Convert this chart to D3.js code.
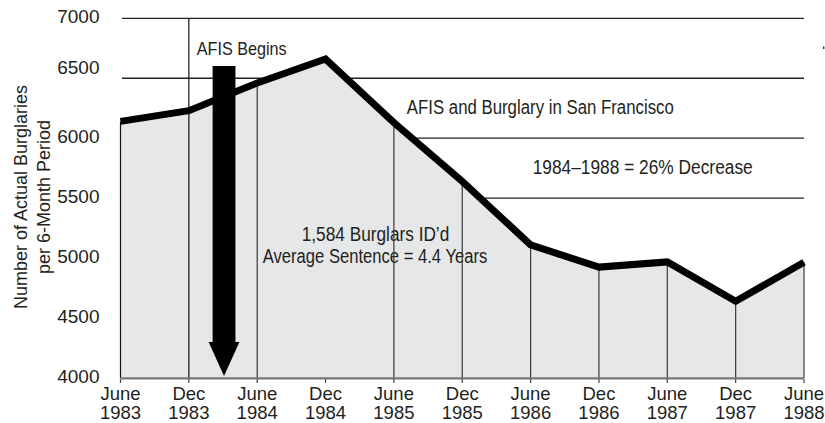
<!DOCTYPE html>
<html>
<head>
<meta charset="utf-8">
<script src="https://cdn.jsdelivr.net/npm/d3@7"></script>
<style>
  body { margin: 0; background: #fff; }
  svg { display: block; }
</style>
</head>
<body>
<svg id="chart"></svg>
<script>
// six-month periods and burglary counts
const months = ["June", "Dec", "June", "Dec", "June", "Dec", "June", "Dec", "June", "Dec", "June"]
const years = ["1983", "1983", "1984", "1984", "1985", "1985", "1986", "1986", "1987", "1987", "1988"]
const burglaries = [6140, 6230, 6460, 6660, 6130, 5640, 5110, 4925, 4968, 4640, 4965]
const yTicks = [4000, 4500, 5000, 5500, 6000, 6500, 7000]
const gridValues = [5500, 6000, 6500, 7000]
const afisStart = 1.5 // index position of the arrow (early 1984)

const yTitle = ["Number of Actual Burglaries", "per 6-Month Period"]
const titleText = "AFIS and Burglary in San Francisco"
const decreaseText = "1984\u20131988 = 26% Decrease"
const idText = ["1,584 Burglars ID\u2019d", "Average Sentence = 4.4 Years"]
const afisText = "AFIS Begins"

const width = 825, height = 423
const textFont = "'Liberation Sans', Arial, Helvetica, sans-serif"
const narrowFont = "'Liberation Sans Narrow', 'Arial Narrow', 'Liberation Sans', Arial, sans-serif"

const svg = d3.select("#chart").attr("width", width).attr("height", height)

const x = d3.scaleLinear().domain([0, months.length - 1]).range([120.5, 804])
const y = d3.scaleLinear().domain([4000, 7000]).range([378, 18.3])

// horizontal grid (sits under the shaded area)
svg.append("g").selectAll("line").data(gridValues).join("line")
    .attr("x1", 122).attr("x2", x(months.length - 1))
    .attr("y1", d => y(d)).attr("y2", d => y(d))
    .style("stroke", "#222").style("stroke-width", 1.3)

// shaded area under the series
const area = d3.area().x((d, i) => x(i)).y0(y(4000)).y1(d => y(d))
svg.append("path").attr("d", area(burglaries)).style("fill", "#e6e7e8")

// annotations in the plot
function narrowText(txt, x0, yb, len, size) {
    svg.append("text")
        .attr("x", x0).attr("y", yb)
        .attr("textLength", len).attr("lengthAdjust", "spacingAndGlyphs")
        .style("font-family", narrowFont).style("font-size", size + "px")
        .style("fill", "#231f20")
        .text(txt)
}
narrowText(titleText, 406.8, 114, 267, 19.5)
narrowText(decreaseText, 532.7, 173.5, 220, 19.5)
narrowText(idText[0], 301.7, 240.7, 147.6, 19.5)
narrowText(idText[1], 262.7, 263.3, 224.6, 19.5)
narrowText(afisText, 196.7, 55, 90, 18.5)

// drop lines from the series to the base (none at Dec 1984)
svg.append("g").selectAll("line").data(burglaries.map((v, i) => ({ v, i })).filter(d => d.i != 3)).join("line")
    .attr("x1", d => x(d.i)).attr("x2", d => x(d.i))
    .attr("y1", d => d.i == 1 ? y(7000) : y(d.v)).attr("y2", y(4000))
    .style("stroke", d => d.i < 2 ? "#111" : "#3a3a3a").style("stroke-width", 1.2)

// base line and ticks
svg.append("line")
    .attr("x1", x(0)).attr("x2", x(months.length - 1))
    .attr("y1", y(4000) + 0.3).attr("y2", y(4000) + 0.3)
    .style("stroke", "#777").style("stroke-width", 2.2)
svg.append("g").selectAll("line").data(months).join("line")
    .attr("x1", (d, i) => x(i)).attr("x2", (d, i) => x(i))
    .attr("y1", y(4000) + 1).attr("y2", y(4000) + 5)
    .style("stroke", "#444").style("stroke-width", 1.2)

// the series line
const line = d3.line().x((d, i) => x(i)).y(d => y(d))
svg.append("path").attr("d", line(burglaries))
    .style("fill", "none").style("stroke", "#000")
    .style("stroke-width", 7).style("stroke-linejoin", "miter")

// AFIS arrow
const ax = x(afisStart) + 1
const tipY = y(4000) - 2
svg.append("path")
    .attr("d", `M${ax - 11.4},66 L${ax + 11.4},66 L${ax + 11.4},${tipY - 34} L${ax + 15.4},${tipY - 34}
                L${ax},${tipY} L${ax - 15.4},${tipY - 34} L${ax - 11.4},${tipY - 34} Z`)
    .style("fill", "#000")

// y axis labels
svg.append("g").selectAll("text").data(yTicks).join("text")
    .attr("x", 99.5).attr("y", d => y(d) + (d == 6500 ? -4 : 4.8))
    .attr("text-anchor", "end")
    .style("font-family", textFont).style("font-size", "19px").style("fill", "#231f20")
    .text(d => d)

// x axis labels
const xl = svg.append("g").selectAll("text").data(months).join("text")
    .attr("text-anchor", "middle")
    .style("font-family", textFont).style("font-size", "18.5px").style("fill", "#231f20")
xl.append("tspan").attr("x", (d, i) => x(i)).attr("y", 400).text(d => d)
xl.append("tspan").attr("x", (d, i) => x(i)).attr("y", 418.5).text((d, i) => years[i])

// y axis title
svg.append("g").attr("transform", "translate(27,197) rotate(-90)")
    .selectAll("text").data(yTitle).join("text")
    .attr("x", 0).attr("y", (d, i) => i * 22.5)
    .attr("text-anchor", "middle")
    .style("font-family", textFont).style("font-size", "18px").style("fill", "#231f20")
    .text(d => d)

// stray printer mark at the top right
svg.append("rect").attr("x", 823).attr("y", 46.5).attr("width", 1.4).attr("height", 2.5).style("fill", "#333")
</script>
</body>
</html>
